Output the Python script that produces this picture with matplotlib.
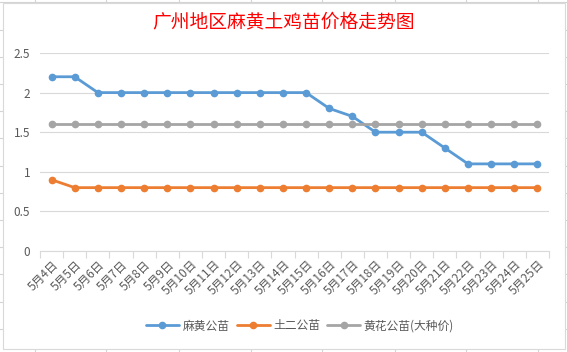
import matplotlib
matplotlib.use('Agg')
import matplotlib.pyplot as plt
from matplotlib.lines import Line2D
from matplotlib.patches import Rectangle

plt.rcParams['font.family'] = ['Noto Sans CJK SC', 'DejaVu Sans']

# data
dates = ['5月%d日' % d for d in range(4, 26)]
mahuang = [2.2, 2.2, 2.0, 2.0, 2.0, 2.0, 2.0, 2.0, 2.0, 2.0, 2.0, 2.0,
           1.8, 1.7, 1.5, 1.5, 1.5, 1.3, 1.1, 1.1, 1.1, 1.1]
tuer = [0.9] + [0.8] * 21
huanghua = [1.6] * 22
series_names = ['麻黄公苗', '土二公苗', '黄花公苗(大种价)']
colors = ['#5B9BD5', '#ED7D31', '#A5A5A5']
title = '广州地区麻黄土鸡苗价格走势图'

W, H = 567, 352
fig = plt.figure(figsize=(W / 100, H / 100), dpi=100)

# spreadsheet background behind the chart
bg = fig.add_axes([0, 0, 1, 1])
bg.set_xlim(0, W)
bg.set_ylim(H, 0)
bg.axis('off')
cell = '#D4D4D4'
for x in [35, 106, 179, 251, 322, 395, 466, 538]:
    bg.add_line(Line2D([x, x], [0, H], color=cell, lw=0.8, zorder=1))
for k in range(-3, 10):
    y = 84 + 27.2 * k
    bg.add_line(Line2D([0, W], [y, y], color=cell, lw=0.8, zorder=1))
bg.add_patch(Rectangle((3, 3), 562, 346, facecolor='white', edgecolor='#D9D9D9',
                       lw=0.8, zorder=5))

ax = fig.add_axes([40 / W, 101 / H, 509 / W, 198 / H])
ax.set_facecolor('none')
x = list(range(len(dates)))
for vals, name, c in zip([mahuang, tuer, huanghua], series_names, colors):
    ax.plot(x, vals, color=c, lw=2.0, marker='o', markersize=4.5, label=name,
            solid_capstyle='round')

ax.set_xlim(-0.5, len(dates) - 0.5)
ax.set_ylim(0, 2.5)
ax.set_yticks([0, 0.5, 1, 1.5, 2, 2.5])
ax.set_yticklabels(['0', '0.5', '1', '1.5', '2', '2.5'])
ax.yaxis.grid(True, color='#D9D9D9', lw=0.8)
ax.set_axisbelow(True)
for s in ['top', 'right', 'left']:
    ax.spines[s].set_visible(False)
ax.spines['bottom'].set_color('#D9D9D9')
ax.tick_params(axis='y', length=0, labelsize=8.5, labelcolor='#595959', pad=7)

ax.set_xticks(x)
ax.set_xticklabels(dates, rotation=45, ha='right', va='top', rotation_mode='anchor',
                   fontsize=8.5, color='#595959')
ax.tick_params(axis='x', which='major', length=0, pad=5)
ax.set_xticks([i - 0.5 for i in range(len(dates) + 1)], minor=True)
ax.tick_params(axis='x', which='minor', length=5, color='#D9D9D9', width=0.8)

fig.text(283 / W, 1 - 22 / H, title, color='#FF0000', fontsize=13.5, ha='center',
         va='center')

fig.legend(loc='center', bbox_to_anchor=(300 / W, 1 - 326 / H), ncol=3, frameon=False,
           fontsize=8.5, labelcolor='#595959', handlelength=2.8, columnspacing=0.6,
           handletextpad=0.3)

fig.savefig('out.png', dpi=100)
